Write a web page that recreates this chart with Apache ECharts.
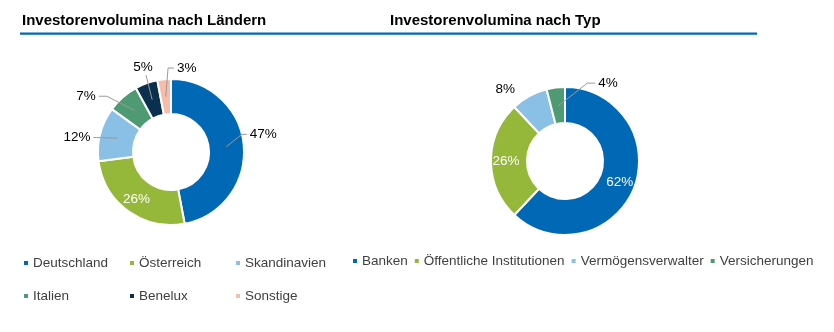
<!DOCTYPE html>
<html>
<head>
<meta charset="utf-8">
<script src="https://cdn.jsdelivr.net/npm/echarts@6/dist/echarts.min.js"></script>
<style>
html,body{margin:0;padding:0;background:#fff;}
#chart{width:834px;height:332px;}
</style>
</head>
<body>
<div id="chart"></div>
<script>
// ---- data ----
const countryNames = ['Deutschland', 'Österreich', 'Skandinavien', 'Italien', 'Benelux', 'Sonstige'];
const countryValues = [47, 26, 12, 7, 5, 3];
const typeNames = ['Banken', 'Öffentliche Institutionen', 'Vermögensverwalter', 'Versicherungen'];
const typeValues = [62, 26, 8, 4];
const titleLeft = 'Investorenvolumina nach Ländern';
const titleRight = 'Investorenvolumina nach Typ';

// ---- style ----
const countryColors = ['#0068b4', '#95b83a', '#8abfe6', '#4e9a73', '#0b2f4f', '#f7bcaa'];
const typeColors = ['#0068b4', '#95b83a', '#8abfe6', '#4e9a73'];
const leftInside = ['Österreich'];
const rightInside = ['Banken', 'Öffentliche Institutionen'];
const FONT = '"Liberation Sans", Arial, sans-serif';
const leftCenter = [171, 152], rightCenter = [565, 161];
const lineStartR = 55.5;
// outside-label placement in polar terms relative to each donut:
// angle (deg, clockwise from 12 o'clock), radius of elbow, side (+1 right, -1 left, 0 above), horizontal run
const leftLabelPlace = {
  'Deutschland':  { angle: 76,  r: 73, side: 1,  run: 5 },
  'Skandinavien': { angle: 281, r: 76, side: -1, run: 3 },
  'Italien':      { angle: 311, r: 85, side: -1, run: 8 },
  'Benelux':      { angle: 342, r: 81, side: 0,  run: 0 },
  'Sonstige':     { angle: 358, r: 84, side: 1,  run: 6 }
};
const rightLabelPlace = {
  'Vermögensverwalter': { angle: 320, r: 93, side: 0, run: 0, noLine: true },
  'Versicherungen':     { angle: 16,  r: 81, side: 1, run: 8 }
};

function ringData(names, values, colors, insideList) {
  return names.map((n, i) => ({
    name: n, value: values[i],
    itemStyle: { color: colors[i] },
    label: insideList.includes(n)
      ? { show: true, position: 'inside', color: '#fff', fontSize: 13.5, fontFamily: FONT, formatter: '{c}%' }
      : { show: false }
  }));
}
function overlayData(names, values, placeMap) {
  return names.map((n, i) => ({
    name: n, value: values[i],
    label: { show: !!placeMap[n] },
    labelLine: { show: !!placeMap[n] && !placeMap[n].noLine }
  }));
}
function polar(center, angDeg, r) {
  const a = angDeg * Math.PI / 180;
  return [center[0] + r * Math.sin(a), center[1] - r * Math.cos(a)];
}
function makeLayout(names, values, center, placeMap) {
  const total = values.reduce((s, v) => s + v, 0);
  return function (params) {
    const name = names[params.dataIndex];
    const pl = placeMap[name];
    if (!pl) return {};
    let cum = 0;
    for (let i = 0; i < params.dataIndex; i++) cum += values[i];
    const mid = (cum + values[params.dataIndex] / 2) / total * 360;
    const p0 = polar(center, mid, lineStartR);
    const p1 = polar(center, pl.angle, pl.r);
    const p2 = [p1[0] + pl.side * pl.run, p1[1]];
    if (pl.noLine) {
      return { x: p1[0], y: p1[1], align: 'center', verticalAlign: 'middle' };
    }
    if (pl.side === 0) {
      return { x: p1[0] - 3, y: p1[1] - 1, align: 'center', verticalAlign: 'bottom', labelLinePoints: [p0, p1, p1] };
    }
    return {
      x: p2[0] + pl.side * 3, y: p2[1],
      align: pl.side > 0 ? 'left' : 'right', verticalAlign: 'middle',
      labelLinePoints: [p0, p1, p2]
    };
  };
}

const legendText = { fontSize: 13.5, color: '#404040', fontFamily: FONT };
const legendBase = { icon: 'rect', itemWidth: 4, itemHeight: 4, padding: 0, itemGap: 7, selectedMode: false,
  itemStyle: { borderWidth: 0 }, textStyle: legendText };
const colLeft = [24, 130, 236];
const rowTop = [256, 289];
const leftLegends = countryNames.map((n, i) => Object.assign({}, legendBase, {
  data: [n], left: colLeft[i % 3], top: rowTop[Math.floor(i / 3)]
}));

const chart = echarts.init(document.getElementById('chart'), null, { renderer: 'canvas' });
const option = {
  animation: false,
  textStyle: { fontFamily: FONT },
  graphic: [
    { type: 'rect', shape: { x: 20, y: 32.5, width: 737, height: 2.2 }, style: { fill: '#0068b4' }, silent: true },
    { type: 'text', left: 22, top: 13, style: { text: titleLeft, font: 'bold 15px ' + FONT, fill: '#000' } },
    { type: 'text', left: 390, top: 13, style: { text: titleRight, font: 'bold 15px ' + FONT, fill: '#000' } }
  ],
  legend: leftLegends.concat([
    Object.assign({}, legendBase, { data: typeNames, left: 353, top: 254, width: 480 })
  ]),
  series: [
    {
      type: 'pie', center: leftCenter, radius: [38, 73], startAngle: 90, clockwise: true,
      avoidLabelOverlap: false, silent: true,
      itemStyle: { borderColor: '#fff', borderWidth: 2 },
      labelLine: { show: false },
      data: ringData(countryNames, countryValues, countryColors, leftInside)
    },
    {
      type: 'pie', center: rightCenter, radius: [38, 74], startAngle: 90, clockwise: true,
      avoidLabelOverlap: false, silent: true,
      itemStyle: { borderColor: '#fff', borderWidth: 2 },
      labelLine: { show: false },
      data: ringData(typeNames, typeValues, typeColors, rightInside)
    },
    {
      type: 'pie', center: leftCenter, radius: [0, lineStartR], startAngle: 90, clockwise: true,
      avoidLabelOverlap: false, silent: true, z: 5,
      itemStyle: { color: 'rgba(0,0,0,0)', borderWidth: 0 },
      label: { position: 'outside', formatter: '{c}%', color: '#000', fontSize: 13.5, fontFamily: FONT },
      labelLine: { length: 20, length2: 5, lineStyle: { color: '#9a9a9a', width: 1 } },
      labelLayout: makeLayout(countryNames, countryValues, leftCenter, leftLabelPlace),
      data: overlayData(countryNames, countryValues, leftLabelPlace)
    },
    {
      type: 'pie', center: rightCenter, radius: [0, lineStartR], startAngle: 90, clockwise: true,
      avoidLabelOverlap: false, silent: true, z: 5,
      itemStyle: { color: 'rgba(0,0,0,0)', borderWidth: 0 },
      label: { position: 'outside', formatter: '{c}%', color: '#000', fontSize: 13.5, fontFamily: FONT },
      labelLine: { length: 20, length2: 5, lineStyle: { color: '#9a9a9a', width: 1 } },
      labelLayout: makeLayout(typeNames, typeValues, rightCenter, rightLabelPlace),
      data: overlayData(typeNames, typeValues, rightLabelPlace)
    }
  ]
};
chart.setOption(option);
</script>
</body>
</html>
